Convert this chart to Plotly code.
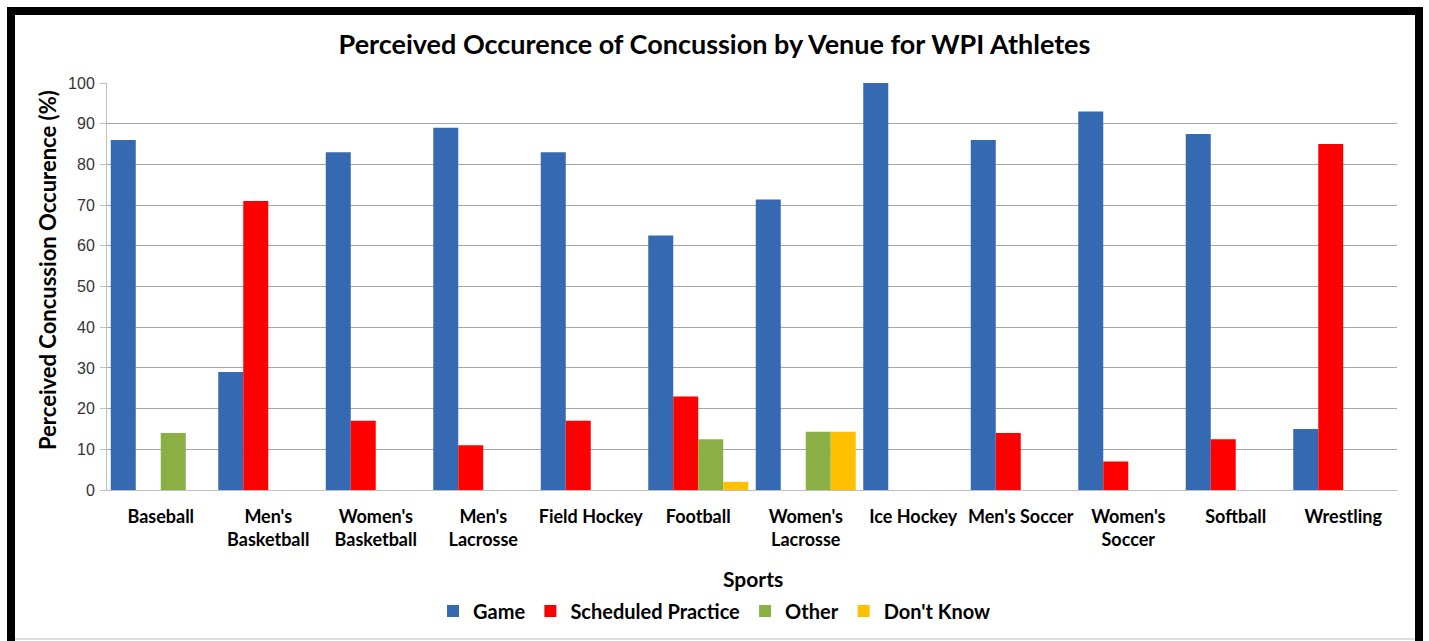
import plotly.graph_objects as go

sports = ["Baseball", "Men's<br>Basketball", "Women's<br>Basketball", "Men's<br>Lacrosse",
          "Field Hockey", "Football", "Women's<br>Lacrosse", "Ice Hockey", "Men's Soccer",
          "Women's<br>Soccer", "Softball", "Wrestling"]
game = [86, 29, 83, 89, 83, 62.5, 71.4, 100, 86, 93, 87.5, 15]
practice = [0, 71, 17, 11, 17, 23, 0, 0, 14, 7, 12.5, 85]
other = [14, 0, 0, 0, 0, 12.5, 14.3, 0, 0, 0, 0, 0]
dont_know = [0, 0, 0, 0, 0, 2, 14.3, 0, 0, 0, 0, 0]

series = [("Game", game, "#356AB3"), ("Scheduled Practice", practice, "#FF0000"),
          ("Other", other, "#8AAF45"), ("Don't Know", dont_know, "#FFC000")]

fig = go.Figure()
for name, vals, col in series:
    fig.add_trace(go.Bar(x=sports, y=vals, name="<b>" + name + "</b>",
                         marker=dict(color=col, line=dict(width=0))))

L, R, T, B = 107, 32, 83, 151
W, H = 1429, 641
pw, ph = W - L - R, H - T - B

def px(x):
    return (x - L) / pw

def py(y):
    return (H - B - y) / ph

fig.update_layout(
    width=W, height=H,
    margin=dict(l=L, r=R, t=T, b=B, autoexpand=False),
    paper_bgcolor="white", plot_bgcolor="white",
    barmode="group", bargap=0.07, bargroupgap=0,
    title=dict(text="<b>Perceived Occurence of Concussion by Venue for WPI Athletes</b>",
               x=0.5, xref="container", xanchor="center", y=1 - 45 / H, yanchor="middle",
               font=dict(family="Lato", size=27, color="black")),
    font=dict(family="Lato", color="black"),
    legend=dict(orientation="h", xref="container", x=0.5, xanchor="center",
                yref="container", y=1 - 611 / H, yanchor="middle",
                font=dict(family="Lato", size=20, color="black"),
                itemwidth=30, traceorder="normal"),
    xaxis=dict(showline=True, linecolor="#BFBFBF", linewidth=1, ticks="",
               ticklabelstandoff=10, automargin=False,
               tickfont=dict(family="Lato", size=18, color="black")),
    yaxis=dict(range=[0, 100], dtick=10, showgrid=True, gridcolor="#A6A6A6", gridwidth=1,
               showline=True, linecolor="#BFBFBF", linewidth=1, ticks="outside", ticklen=6,
               tickcolor="#BFBFBF", zeroline=False, ticklabelstandoff=2, automargin=False,
               tickfont=dict(family="Liberation Sans", size=16, color="#333333")),
)
fig.update_xaxes(tickvals=sports, ticktext=["<b>" + s + "</b>" for s in sports])

# axis titles as annotations (positioned like the reference)
fig.add_annotation(text="<b>Perceived Concussion Occurence (%)</b>", textangle=-90,
                   xref="paper", yref="paper", x=px(47), y=py(270),
                   xanchor="center", yanchor="middle", showarrow=False,
                   font=dict(family="Lato", size=22, color="black"))
fig.add_annotation(text="<b>Sports</b>",
                   xref="paper", yref="paper", x=px(753), y=py(578),
                   xanchor="center", yanchor="middle", showarrow=False,
                   font=dict(family="Lato", size=21, color="black"))

# thin inner bottom line
fig.add_shape(type="line", xref="paper", yref="paper",
              x0=px(15), x1=px(1415), y0=py(639), y1=py(639),
              line=dict(color="#BFBFBF", width=1))
# outer thick frame
fig.add_shape(type="rect", xref="paper", yref="paper",
              x0=px(11), x1=px(1419), y0=py(648), y1=py(11),
              line=dict(color="black", width=8), fillcolor="rgba(0,0,0,0)", layer="above")

fig.write_html("out.html", config={"displayModeBar": False},
               post_script="document.body.style.margin='0px';")
